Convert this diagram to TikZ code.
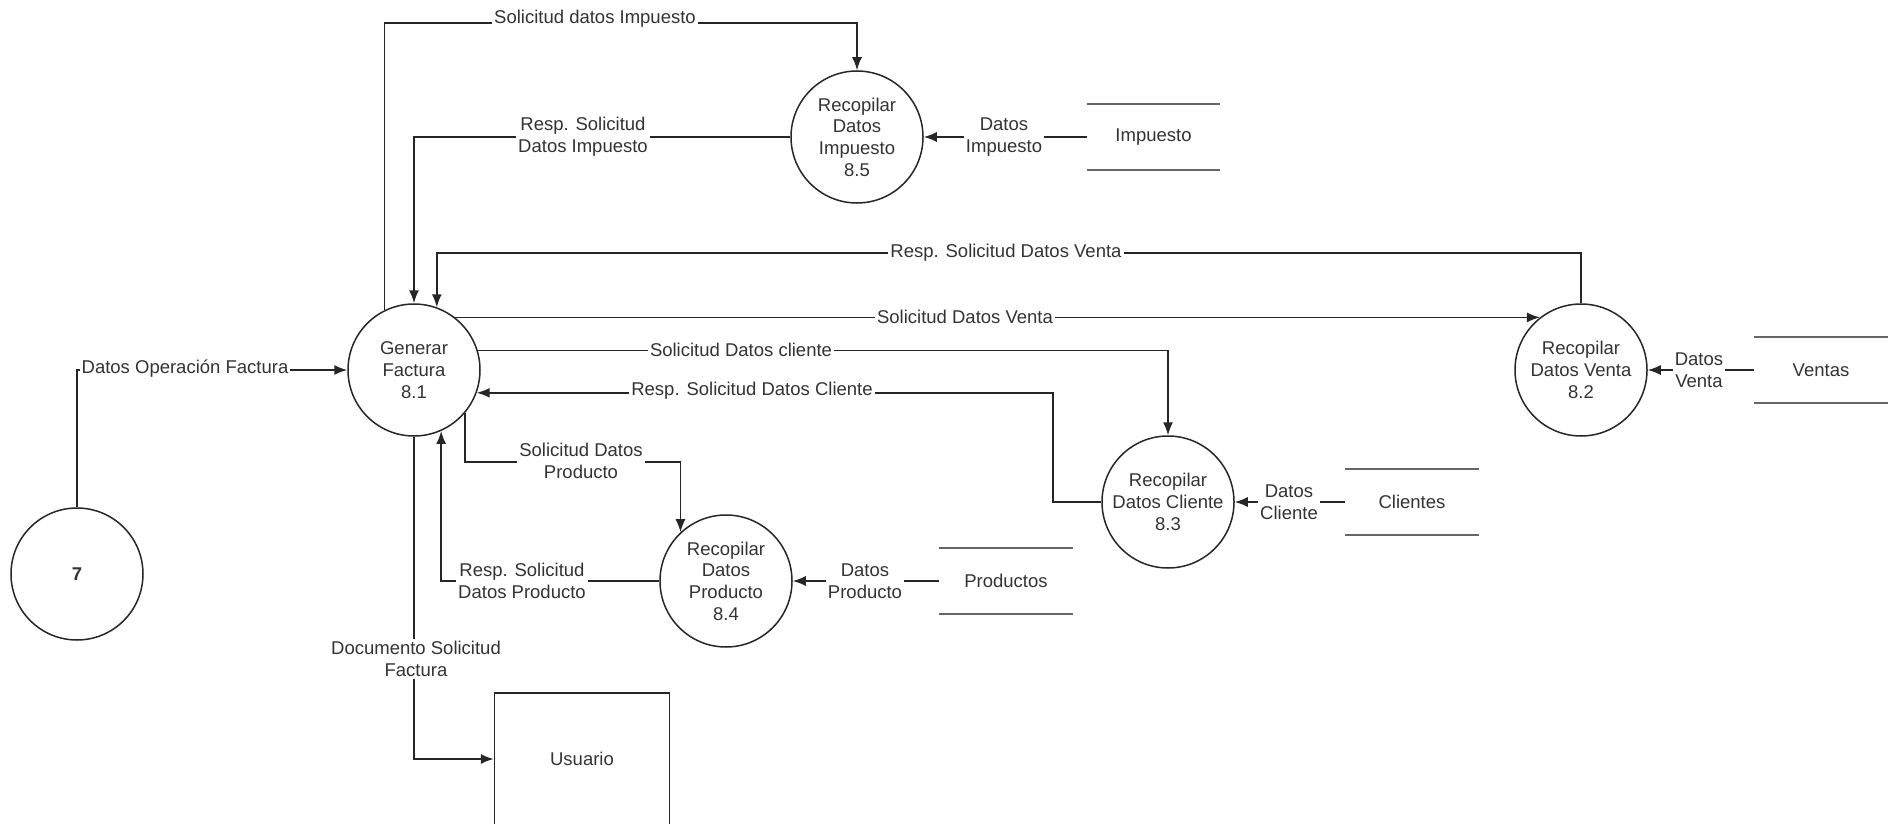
\documentclass[tikz,border=0pt]{standalone}
\usepackage{fontspec}
\setmainfont{Liberation Sans}
\usetikzlibrary{arrows.meta}
\begin{document}
\begin{tikzpicture}[x=1pt,y=-1pt,
  font=\fontsize{18.5}{21.7}\selectfont,
  every node/.style={text=black!80},
  proc/.style={circle, draw=black!85, line width=1.5pt, minimum size=132pt, inner sep=0pt, align=center},
  store/.style={minimum width=133pt, minimum height=66pt, inner sep=0pt},
  storeline/.style={draw=black!60, line width=2pt},
  flow/.style={draw=black!85, line width=1.5pt, -{Latex[length=13pt,width=10pt]}},
  lbl/.style={fill=white, inner sep=2pt, align=center},
  ent/.style={draw=black!85, line width=1.5pt, minimum width=175pt, minimum height=144pt, inner sep=0pt}
]
\useasboundingbox (0,0) rectangle (1888,824);

% processes
\node[proc] (p7)  at (77,574)   {\textbf{7}};
\node[proc] (gen) at (414,370)  {Generar\\Factura\\8.1};
\node[proc] (imp) at (857,137)  {Recopilar\\Datos\\Impuesto\\8.5};
\node[proc] (ven) at (1581,370) {Recopilar\\Datos Venta\\8.2};
\node[proc] (cli) at (1168,502) {Recopilar\\Datos Cliente\\8.3};
\node[proc] (pro) at (726,581)  {Recopilar\\Datos\\Producto\\8.4};

% external entity (runs past the lower edge of the page)
\node[ent] (usr) at (582,765) {\raisebox{12pt}{Usuario}};

% data stores
\node[store] (simp) at (1153.5,137) {Impuesto};
\node[store] (spro) at (1006,581)   {Productos};
\node[store] (scli) at (1412,502)   {Clientes};
\node[store] (sven) at (1821,370)   {Ventas};
\foreach \s in {simp,spro,scli,sven}
  \draw[storeline] (\s.north west) -- (\s.north east) (\s.south west) -- (\s.south east);

% routing helpers
\coordinate (sdi) at (0,23);
\coordinate (rdv) at (0,253);
\coordinate (rdc) at (1053,0);
\coordinate (sdp) at (0,462);
\coordinate (dsf) at (0,759);

% flows
\draw[flow] (p7.north) |- (gen.west);
\draw[flow] (gen.116) -- (gen.116 |- sdi) -| (imp.north);
\draw[flow] (imp.west) -| (gen.north);
\draw[flow] (ven.north) -- (ven.north |- rdv) -| (gen.70);
\draw[flow] (gen.52) -- (ven.128);
\draw[flow] (gen.17) -| (cli.north);
\draw[flow] (cli.west) -| (rdc |- gen.-20) -- (gen.-20);
\draw[flow] (gen.-40) -- (gen.-40 |- sdp) -| (pro.133);
\draw[flow] (pro.west) -| (gen.-66);
\draw[flow] (gen.south) -- (gen.south |- dsf) -- (usr.west |- dsf);
\draw[flow] (simp.west) -- (imp.east);
\draw[flow] (spro.west) -- (pro.east);
\draw[flow] (scli.west) -- (cli.east);
\draw[flow] (sven.west) -- (ven.east);

% flow labels
\node[lbl] (l1)  at (185,369)  {Datos Operación Factura};
\node[lbl] (l2)  at (595,19)   {Solicitud datos Impuesto};
\node[lbl] (l3)  at (583,137)  {Resp. Solicitud\\Datos Impuesto};
\node[lbl] (l4)  at (1006,253) {Resp. Solicitud Datos Venta};
\node[lbl] (l5)  at (965,317)  {Solicitud Datos Venta};
\node[lbl] (l6)  at (741,350)  {Solicitud Datos cliente};
\node[lbl] (l7)  at (752,391)  {Resp. Solicitud Datos Cliente};
\node[lbl] (l8)  at (581,461)  {Solicitud Datos\\Producto};
\node[lbl] (l9)  at (522,581)  {Resp. Solicitud\\Datos Producto};
\node[lbl] (l10) at (416,659)  {Documento Solicitud\\Factura};
\node[lbl] (l11) at (1004,137) {Datos\\Impuesto};
\node[lbl] (l12) at (865,581)  {Datos\\Producto};
\node[lbl] (l13) at (1289,502) {Datos\\Cliente};
\node[lbl] (l14) at (1699,370) {Datos\\Venta};
\end{tikzpicture}
\end{document}
